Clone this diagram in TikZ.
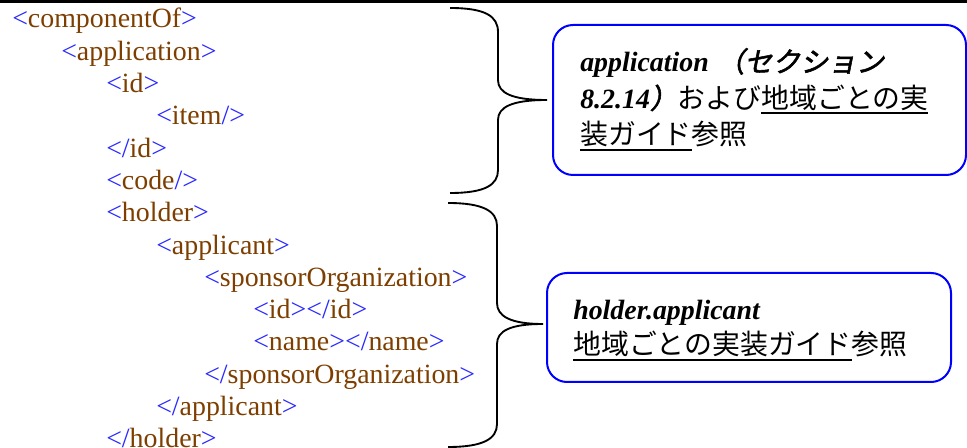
\documentclass[tikz,border=0pt]{standalone}
\usepackage{fontspec}
\setmainfont{Liberation Serif}
\newfontfamily\jp{Noto Sans CJK JP}
\newfontfamily\jpbi[FakeSlant=0.2,FakeBold=2]{Noto Sans CJK JP}
\definecolor{tagblue}{RGB}{40,40,255}
\definecolor{tagbrown}{RGB}{125,62,0}
\definecolor{boxblue}{RGB}{0,0,255}
\newcommand\xo[1]{\textcolor{tagblue}{<}\textcolor{tagbrown}{#1}\textcolor{tagblue}{>}}
\newcommand\xc[1]{\textcolor{tagblue}{</}\textcolor{tagbrown}{#1}\textcolor{tagblue}{>}}
\newcommand\xe[1]{\textcolor{tagblue}{<}\textcolor{tagbrown}{#1}\textcolor{tagblue}{/>}}
\newsavebox\ulbox
\newcommand\myul[1]{\sbox\ulbox{#1}\rlap{\vrule height -3pt depth 4.5pt width \wd\ulbox}\usebox\ulbox}
\tikzset{
  xml/.style={anchor=base west, inner sep=0pt, font=\fontsize{20.9}{25}\selectfont},
  txt/.style={anchor=base west, inner sep=0pt, font=\fontsize{20.9}{25}\selectfont},
  note/.style={draw=boxblue, line width=1.5pt, rounded corners=15pt, inner sep=0pt},
  brace/.style={draw=black, line width=1.4pt},
}
\begin{document}
\begin{tikzpicture}[x=0.75pt,y=-0.75pt]
\useasboundingbox (0,0) rectangle (967,448);
\draw[line width=2.4pt] (0,1.6) -- (967,1.6);
% XML lines
\node[xml] (l1)  at (12,28)    {\xo{componentOf}};
\node[xml] (l2)  at (61,60.3)  {\xo{application}};
\node[xml] (l3)  at (106,92.6) {\xo{id}};
\node[xml] (l4)  at (156,124.9){\xe{item}};
\node[xml] (l5)  at (106,157.2){\xc{id}};
\node[xml] (l6)  at (106,189.5){\xe{code}};
\node[xml] (l7)  at (106,221.8){\xo{holder}};
\node[xml] (l8)  at (156,254.1){\xo{applicant}};
\node[xml] (l9)  at (204,286.4){\xo{sponsorOrganization}};
\node[xml] (l10) at (253,318.7){\xo{id}\xc{id}};
\node[xml] (l11) at (253,351)  {\xo{name}\xc{name}};
\node[xml] (l12) at (204,383.3){\xc{sponsorOrganization}};
\node[xml] (l13) at (156,415.6){\xc{applicant}};
\node[xml] (l14) at (106,447.9){\xc{holder}};
% braces
\draw[brace] (450,8) .. controls (485,8) and (498,16) .. (498,32) -- (498,80)
  .. controls (498,93) and (512,100) .. (547,100)
  .. controls (512,100) and (498,107) .. (498,120) -- (498,170)
  .. controls (498,185) and (485,193) .. (450,193);
\draw[brace] (448,203) .. controls (483,203) and (497,211) .. (497,226) -- (497,303)
  .. controls (497,316) and (510,324) .. (543,324)
  .. controls (510,324) and (497,331) .. (497,344) -- (497,424)
  .. controls (497,439) and (483,447) .. (448,447);
% boxes
\node[note, minimum width=309.75pt, minimum height=112.5pt] (b1) at (759.5,100) {};
\node[note, minimum width=303pt, minimum height=81.75pt] (b2) at (749,327.5) {};
\node[txt] (t11) at (580,72)   {{\bfseries\itshape application}\hspace{6pt}{\jpbi （セクション}};
\node[txt] (t12) at (580,108.5){{\bfseries\itshape 8.2.14}{\jpbi ）}{\jp および\myul{地域ごとの実}}};
\node[txt] (t13) at (580,145)  {{\jp \myul{装ガイド}参照}};
\node[txt] (t21) at (573,320)  {{\bfseries\itshape holder.applicant}};
\node[txt] (t22) at (573,355)  {{\jp \myul{地域ごとの実装ガイド}参照}};
\end{tikzpicture}
\end{document}
